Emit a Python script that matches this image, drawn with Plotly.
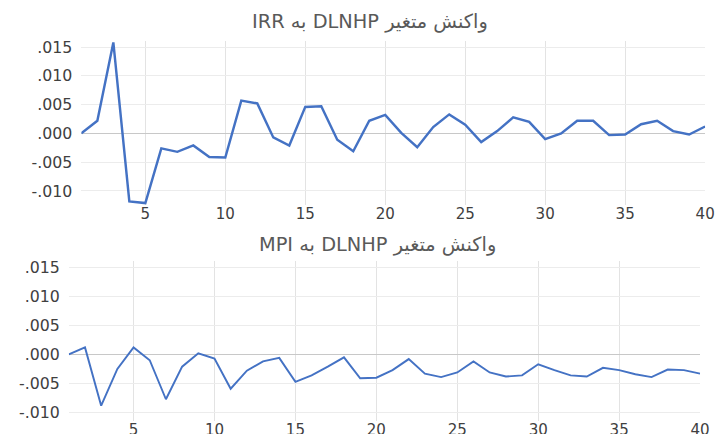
import plotly.graph_objects as go

periods = list(range(1, 41))

irr_response = [0.0000, 0.0022, 0.0158, -0.0118, -0.0121, -0.0026, -0.0032, -0.0021, -0.0041, -0.0042,
                0.0057, 0.0052, -0.0007, -0.0021, 0.0046, 0.0047, -0.0011, -0.0031, 0.0022, 0.0032,
                0.0001, -0.0024, 0.0011, 0.0033, 0.0015, -0.0015, 0.0004, 0.0028, 0.0020, -0.0010,
                0.0000, 0.0022, 0.0022, -0.0003, -0.0002, 0.0016, 0.0022, 0.0004, -0.0002, 0.0012]

mpi_response = [0.0000, 0.0012, -0.0088, -0.0025, 0.0012, -0.0010, -0.0077, -0.0021, 0.0002, -0.0007,
                -0.0059, -0.0028, -0.0012, -0.0006, -0.0047, -0.0036, -0.0021, -0.0005, -0.0041, -0.0040,
                -0.0027, -0.0008, -0.0033, -0.0039, -0.0031, -0.0012, -0.0031, -0.0038, -0.0036, -0.0017,
                -0.0027, -0.0036, -0.0038, -0.0023, -0.0027, -0.0034, -0.0039, -0.0026, -0.0027, -0.0033]

y_tickvals = [0.015, 0.010, 0.005, 0.0, -0.005, -0.010]
y_ticktext = [".015", ".010", ".005", ".000", "-.005", "-.010"]
x_tickvals = [5, 10, 15, 20, 25, 30, 35, 40]

title_top = "\u202bواکنش متغیر DLNHP به IRR\u202c"
title_bottom = "\u202bواکنش متغیر DLNHP به MPI\u202c"

# layout geometry (reference pixels -> figure pixels)
S = 442 / 434          # page-to-picture scale observed
W = round(715 * S)
H = round(434 * S)

def px(p):
    return p * S

def xdom(a, b):
    return [px(a) / W, px(b) / W]

def ydom(top, bottom):
    return [1 - px(bottom) / H, 1 - px(top) / H]

line_color = "#4472C4"
ytick_font = dict(family="DejaVu Sans, Verdana, sans-serif", size=15.5 * S, color="#404040")
xtick_font = dict(family="DejaVu Sans, Verdana, sans-serif", size=14.8 * S, color="#404040")
title_font = dict(family="DejaVu Sans, sans-serif", size=19 * S, color="#595959")

fig = go.Figure()
fig.add_trace(go.Scatter(x=periods, y=irr_response, mode="lines",
                         line=dict(color=line_color, width=2.4 * S), xaxis="x", yaxis="y",
                         showlegend=False))
fig.add_trace(go.Scatter(x=periods, y=mpi_response, mode="lines",
                         line=dict(color=line_color, width=1.9 * S), xaxis="x2", yaxis="y2",
                         showlegend=False))

xaxis_common = dict(range=[1, 40], tickvals=x_tickvals, showgrid=True, gridcolor="#e3e3e3",
                    gridwidth=1, zeroline=False, showline=False, ticks="", tickfont=xtick_font,
                    ticklabelstandoff=-2, ticklabeloverflow="allow", fixedrange=True)
yaxis_common = dict(tickvals=y_tickvals, ticktext=y_ticktext,
                    showgrid=True, gridcolor="#ececec", gridwidth=1, zeroline=True,
                    zerolinecolor="#c8c8c8", zerolinewidth=1, showline=False, ticks="",
                    tickfont=ytick_font, ticklabelstandoff=8, fixedrange=True)

fig.update_layout(
    width=W, height=H,
    margin=dict(l=0, r=0, t=0, b=0),
    paper_bgcolor="white", plot_bgcolor="white",
    xaxis=dict(domain=xdom(81, 702), anchor="y", **xaxis_common),
    yaxis=dict(domain=ydom(37, 200), anchor="x", range=[-0.0125, 0.016], **yaxis_common),
    xaxis2=dict(domain=xdom(68.5, 697), anchor="y2", **xaxis_common),
    yaxis2=dict(domain=ydom(255.5, 414.5), anchor="x2", range=[-0.0115, 0.016], **yaxis_common),
    annotations=[
        dict(text=title_top, x=px(368) / W, y=1 - px(17) / H, xref="paper", yref="paper",
             xanchor="center", yanchor="middle", showarrow=False, font=title_font),
        dict(text=title_bottom, x=px(376) / W, y=1 - px(239) / H, xref="paper", yref="paper",
             xanchor="center", yanchor="middle", showarrow=False, font=title_font),
    ],
)

fig.write_html(
    "out.html",
    config={"displayModeBar": False},
    post_script="document.body.style.margin='0';document.body.style.overflow='hidden';",
)
